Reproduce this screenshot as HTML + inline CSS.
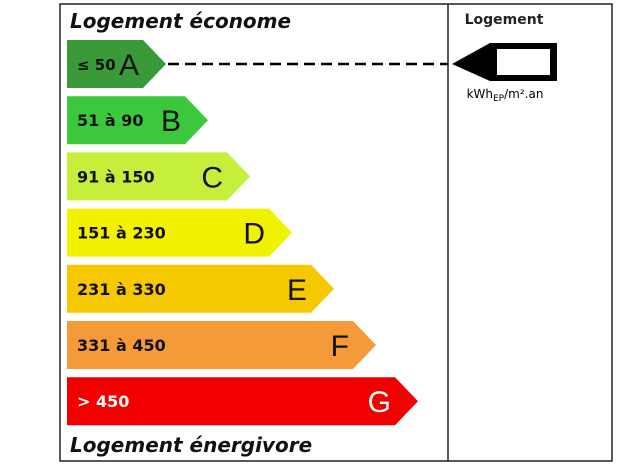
<!DOCTYPE html>
<html><head><meta charset="utf-8"><style>
body{margin:0;background:#fff;width:620px;height:465px;overflow:hidden}
svg{display:block;font-family:"DejaVu Sans","Liberation Sans",sans-serif}
</style></head><body>
<svg id="c" width="620" height="465">
<rect x="60" y="4" width="552" height="457" fill="none" stroke="#222" stroke-width="1.5"/>
<line x1="448" y1="4" x2="448" y2="461" stroke="#222" stroke-width="1.5"/>
<text x="70" y="28" font-size="20" font-weight="bold" font-style="italic" fill="#111">Logement économe</text>
<text x="70" y="452" font-size="20" font-weight="bold" font-style="italic" fill="#111">Logement énergivore</text>
<text x="504" y="24" font-size="14" font-weight="bold" text-anchor="middle" fill="#222">Logement</text>
<line x1="168" y1="64" x2="448" y2="64" stroke="#000" stroke-width="2.5" stroke-dasharray="11,6"/>
<polygon points="452,64 490,43 557,43 557,81 490,81" fill="#000"/>
<rect x="497" y="49" width="53" height="26" fill="#fff"/>
<text x="505" y="98" font-size="12" text-anchor="middle" fill="#000">kWh<tspan font-size="9" dy="3">EP</tspan><tspan dy="-3">/m².an</tspan></text>
<g id="bars"></g>
</svg>
<script>
const classes=["A","B","C","D","E","F","G"];
const ranges=["≤ 50","51 à 90","91 à 150","151 à 230","231 à 330","331 à 450","> 450"];
const colors=["#3a9a3a","#3cc83c","#c6ef3c","#f2f200","#f5c800","#f59a38","#f20000"];
const textColors=["#111","#111","#111","#111","#111","#111","#fff"];
const g=document.getElementById("bars");
const ns="http://www.w3.org/2000/svg";
const x0=67,top0=40,step=56.2,h=48,w0=99,dw=42,pt=23;
classes.forEach((c,i)=>{
 const y=top0+i*step, tip=x0+w0+i*dw;
 const p=document.createElementNS(ns,"polygon");
 p.setAttribute("points",`${x0},${y} ${tip-pt},${y} ${tip},${y+h/2} ${tip-pt},${y+h} ${x0},${y+h}`);
 p.setAttribute("fill",colors[i]);
 
 
 g.appendChild(p);
 const t=document.createElementNS(ns,"text");
 t.setAttribute("x",x0+10);t.setAttribute("y",y+h/2+6);
 t.setAttribute("font-size",i==0?"15":"16");t.setAttribute("font-weight","bold");t.setAttribute("fill",textColors[i]);
 t.textContent=ranges[i];
 
 
 g.appendChild(t);
 const l=document.createElementNS(ns,"text");
 l.setAttribute("x",tip-pt-4);l.setAttribute("y",y+h/2+11);
 l.setAttribute("font-size","30");l.setAttribute("text-anchor","end");l.setAttribute("fill",textColors[i]);
 l.setAttribute("font-family","Liberation Sans, sans-serif");
 l.textContent=c;
 
 
 g.appendChild(l);
});
</script>
</body></html>
